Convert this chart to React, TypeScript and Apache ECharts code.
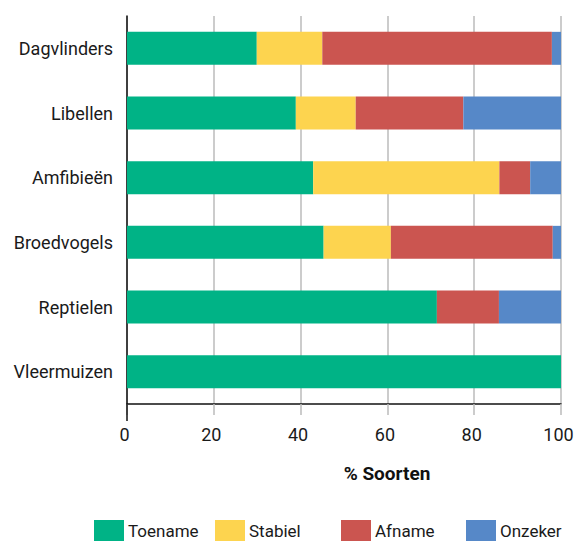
import React, { useEffect, useRef } from "react";
import * as echarts from "echarts";

const categories = ["Dagvlinders", "Libellen", "Amfibieën", "Broedvogels", "Reptielen", "Vleermuizen"];
const toename = [29.9, 38.9, 42.9, 45.3, 71.4, 100];
const stabiel = [15.1, 13.8, 42.9, 15.5, 0, 0];
const afname = [52.9, 24.8, 7.1, 37.3, 14.3, 0];
const onzeker = [2.1, 22.5, 7.1, 1.9, 14.3, 0];
const seriesNames = ["Toename", "Stabiel", "Afname", "Onzeker"];
const colors = ["#00B386", "#FDD44F", "#CB5550", "#5688C8"];
const xTicks = [0, 20, 40, 60, 80, 100];
const legendLefts = [94, 215, 341, 466];

const FONT = "Roboto, 'Liberation Sans', sans-serif";

export default function App() {
  const ref = useRef<HTMLDivElement>(null);
  useEffect(() => {
    if (!ref.current) return;
    const chart = echarts.init(ref.current, undefined, { renderer: "svg" });
    const data = [toename, stabiel, afname, onzeker];
    chart.setOption({
      animation: false,
      textStyle: { fontFamily: FONT },
      grid: { left: 127, right: 13, top: 16, bottom: 137, containLabel: false, outerBoundsMode: "none" },
      legend: seriesNames.map((name, i) => ({
        data: [name],
        left: legendLefts[i],
        top: 520,
        padding: 0,
        itemWidth: 30,
        itemHeight: 21,
        itemGap: 0,
        icon: "rect",
        textStyle: { fontFamily: FONT, fontSize: 17, color: "#1a1a1a", padding: [0, 0, 0, -1] },
      })),
      xAxis: {
        type: "value",
        min: xTicks[0],
        max: xTicks[xTicks.length - 1],
        interval: 20,
        name: "% Soorten",
        nameLocation: "middle",
        nameGap: 60,
        nameTextStyle: {
          fontFamily: FONT,
          fontSize: 19,
          fontWeight: "bold",
          color: "#111",
          padding: [0, 0, 0, 86],
        },
        axisLine: { show: true, lineStyle: { color: "#111", width: 1.5 } },
        axisTick: { show: true, length: 11, lineStyle: { color: "#bbb", width: 1.5 } },
        splitLine: { show: true, lineStyle: { color: "#bbb", width: 1.5 } },
        axisLabel: { fontFamily: FONT, fontSize: 18, color: "#1a1a1a", margin: 21, padding: [0, 5, 0, 0] },
      },
      yAxis: {
        type: "category",
        data: categories,
        inverse: true,
        axisLine: { show: true, lineStyle: { color: "#111", width: 1.5 } },
        axisTick: { show: false },
        axisLabel: { fontFamily: FONT, fontSize: 18, color: "#1a1a1a", margin: 14 },
      },
      graphic: [
        {
          type: "line",
          shape: { x1: 127, y1: 404, x2: 127, y2: 421 },
          style: { stroke: "#111", lineWidth: 1.5 },
          z: 10,
        },
      ],
      series: seriesNames.map((name, i) => ({
        name,
        type: "bar",
        stack: "total",
        barWidth: "51%",
        data: data[i],
        itemStyle: { color: colors[i] },
      })),
    });
    return () => chart.dispose();
  }, []);
  return <div ref={ref} style={{ width: 574, height: 541, position: "absolute", left: 0, top: 0 }} />;
}
